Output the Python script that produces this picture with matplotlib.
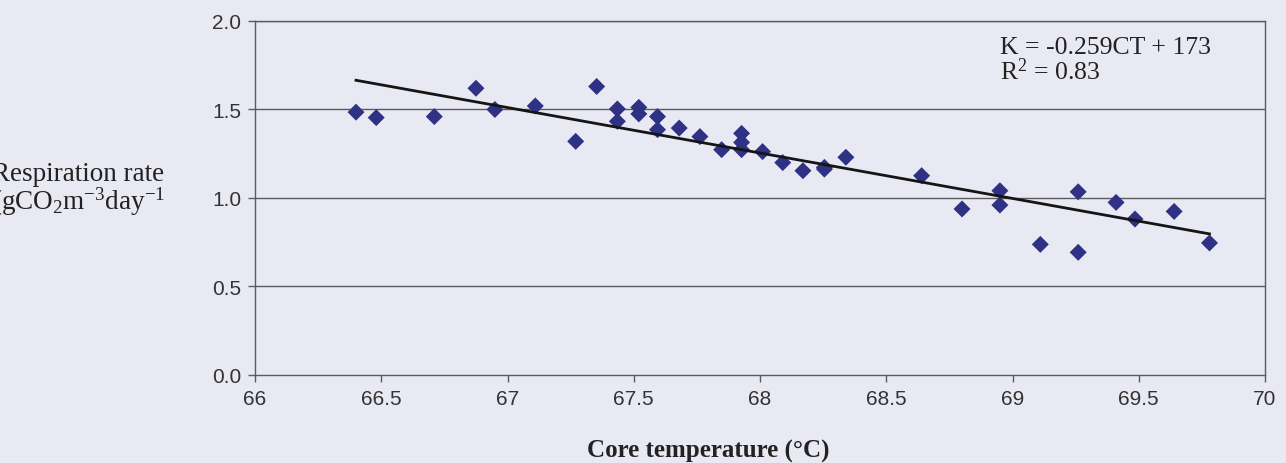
import numpy as np
import matplotlib
matplotlib.use("Agg")
from matplotlib import pyplot as plt

# core temperature (C) and respiration rate (gCO2 m-3 day-1) for each sample
core_temp = [66.40, 66.48, 66.71, 66.875, 66.95, 67.11, 67.27, 67.353,
             67.435, 67.435, 67.52, 67.52, 67.594, 67.594, 67.68, 67.762,
             67.848, 67.927, 67.927, 67.927, 68.01, 68.09, 68.17, 68.255,
             68.255, 68.34, 68.64, 68.80, 68.95, 68.95, 69.11, 69.26,
             69.26, 69.41, 69.485, 69.64, 69.78]
resp_rate = [1.485, 1.454, 1.46, 1.62, 1.50, 1.52, 1.32, 1.63,
             1.503, 1.433, 1.512, 1.475, 1.46, 1.386, 1.395, 1.347,
             1.273, 1.365, 1.314, 1.273, 1.262, 1.20, 1.154, 1.173,
             1.163, 1.23, 1.126, 0.938, 1.041, 0.96, 0.738, 1.035,
             0.693, 0.975, 0.881, 0.924, 0.746]

x_ticks = [66, 66.5, 67, 67.5, 68, 68.5, 69, 69.5, 70]
x_tick_labels = ["66", "66.5", "67", "67.5", "68", "68.5", "69", "69.5", "70"]
y_ticks = [0.0, 0.5, 1.0, 1.5, 2.0]

fit_label = "K = -0.259CT + 173\nR$^2$ = 0.83"

plt.rcParams["mathtext.fontset"] = "custom"
plt.rcParams["mathtext.rm"] = "Liberation Serif"
plt.rcParams["mathtext.it"] = "Liberation Serif:italic"

bg = "#e9e9f3"
frame = "#5a5a60"

fig = plt.figure(figsize=(12.86, 4.64), dpi=100, facecolor=bg)
ax = fig.add_axes([0.1983, 0.1897, 0.7854, 0.7629])
ax.set_facecolor(bg)

for y in y_ticks[1:]:
    ax.axhline(y, color=frame, lw=1.0, zorder=1)

ax.scatter(core_temp, resp_rate, marker="D", s=75, color="#2f3185",
           edgecolors="none", zorder=3)

# least-squares trend line across the sampled range
slope, intercept = np.polyfit(core_temp, resp_rate, 1)
xs = np.array([min(core_temp), max(core_temp)])
ax.plot(xs, slope * xs + intercept, color="#151515", lw=2.0, zorder=4)

ax.set_xlim(66, 70)
ax.set_ylim(0, 2.0)
ax.set_xticks(x_ticks)
ax.set_xticklabels(x_tick_labels)
ax.set_yticks(y_ticks)
ax.set_yticklabels([f"{v:.1f}" for v in y_ticks])

for s in ax.spines.values():
    s.set_color(frame)
    s.set_linewidth(1.0)

ax.tick_params(axis="both", colors=frame, length=5, width=1.0,
               labelcolor="#333333", labelsize=15)
ax.tick_params(axis="x", pad=5)
ax.tick_params(axis="y", pad=5)
for lbl in ax.get_xticklabels() + ax.get_yticklabels():
    lbl.set_fontfamily("Liberation Sans")

ax.text(0.738, 0.89, fit_label, transform=ax.transAxes, ha="left", va="center",
        fontsize=18.5, family="Liberation Serif", color="#222222",
        linespacing=0.95)

# label runs off the left edge of the page
fig.text(-0.006, 0.59, "Respiration rate\n(gCO$_2$m$^{-3}$day$^{-1}$",
         ha="left", va="center", fontsize=19.5, family="Liberation Serif",
         color="#222222", linespacing=0.95)

fig.text(0.551, 0.027, "Core temperature (\u00b0C)", ha="center", va="center",
         fontsize=18, family="Liberation Serif", weight="bold", color="#222222")

fig.savefig("out.png", dpi=100, facecolor=bg)
